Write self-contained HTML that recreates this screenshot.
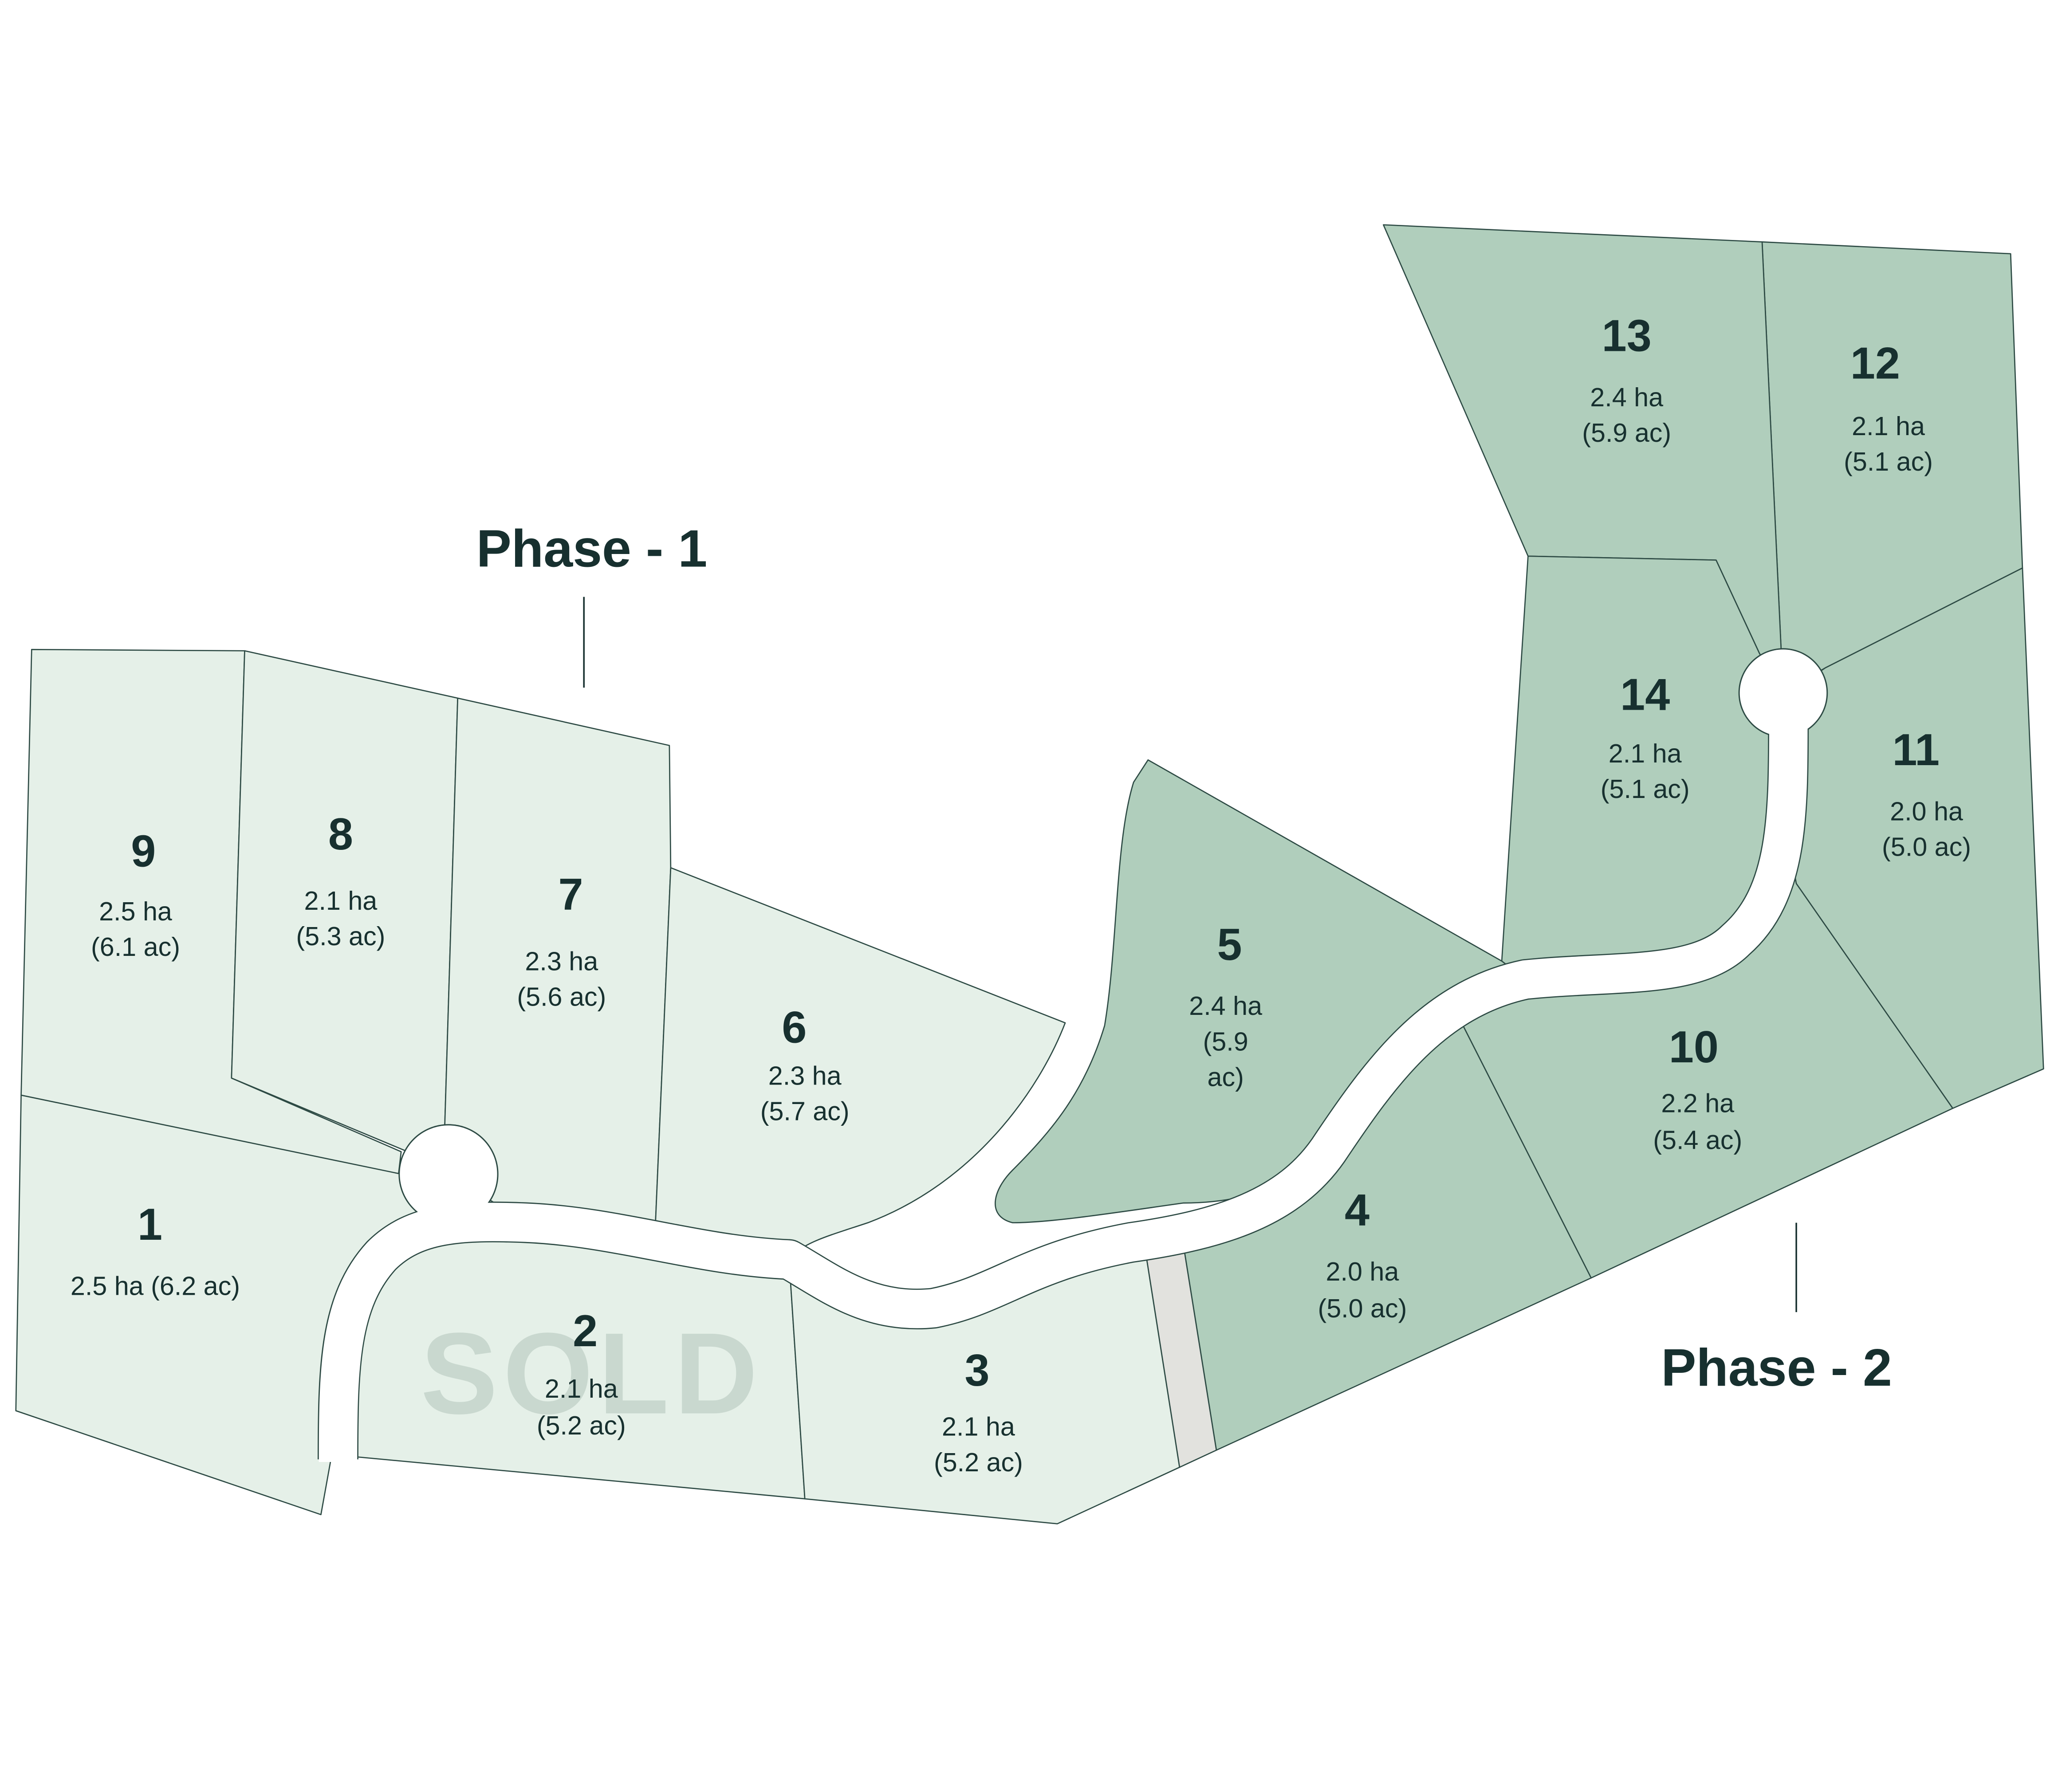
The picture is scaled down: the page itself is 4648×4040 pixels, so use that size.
<!DOCTYPE html>
<html><head><meta charset="utf-8"><style>
html,body{margin:0;padding:0;background:#fff;}
svg{display:block;}
text{font-family:"Liberation Sans",sans-serif;fill:#17302f;text-anchor:middle;}
.n{font-weight:bold;font-size:34px;}
.a{font-size:20px;}
.p{font-weight:bold;font-size:40px;}
</style></head><body>
<svg width="4648" height="4040" viewBox="0 0 1568 1363" xmlns="http://www.w3.org/2000/svg">
<rect width="1568" height="1363" fill="#fff"/>
<g stroke="#2d4a44" stroke-width="0.9" stroke-linejoin="round">
<g fill="#e5f0e8">
<path d="M24,494 L186,495 L176,820 L305,876 L303,893 L16,833 Z"/>
<path d="M16,833 L305,893 L341,893 L290,955 C265,985 258,1030 257,1080 L244,1152 L12,1073 Z"/>
<path d="M186,495 L348,531 L338,862 L341,893 L310,876 L176,820 Z"/>
<path d="M348,531 L509,567 L510,660 L498,940 C470,935 440,931 400,930 L341,893 L338,862 Z"/>
<path d="M510,660 L810,778 C790,830 740,900 660,930 C630,940 610,945 600,958 C560,955 530,948 498,940 Z"/>
<path d="M270,1108 L612,1140 L600,958 C530,955 470,933 400,930 C350,928 315,930 290,955 C262,985 257,1040 257,1108 Z"/>
<path d="M612,1140 L804,1159 L897,1116 L870,945 C820,955 780,980 710,995 C660,1000 630,975 600,958 Z"/>
</g>
<path d="M870,945 L898,935 L925,1103 L897,1116 Z" fill="#e2e2de"/>
<g fill="#b0cebc">
<path d="M898,935 C950,925 985,905 1010,875 C1040,830 1070,795 1110,775 L1210,972 L925,1103 Z"/>
<path d="M1110,775 C1130,758 1145,748 1160,745 C1230,738 1290,745 1320,715 C1345,690 1358,660 1360,640 L1366,672 L1485,843 L1210,972 Z"/>
<path d="M1360,640 L1360,527 L1388,508 L1538,432 L1554,813 L1485,843 L1366,672 Z"/>
<path d="M1340,184 L1529,193 L1538,432 L1388,508 L1356,527 Z"/>
<path d="M1052,171 L1340,184 L1356,527 L1338,497 L1305,426 L1162,423 Z"/>
<path d="M1162,423 L1305,426 L1338,497 L1356,527 L1360,620 C1358,680 1340,700 1320,715 C1290,745 1230,738 1160,745 L1142,731 Z"/>
<path d="M873,578 L1142,731 L1160,745 C1090,760 1050,815 1010,875 C980,905 940,915 900,915 C850,922 800,930 770,930 C750,925 755,905 770,890 C800,860 825,830 840,780 C850,720 848,640 862,595 Z"/>
</g>
</g>
<g fill="none" stroke-linecap="butt" stroke-linejoin="round">
<path d="M257,1110 C257,1040 258,990 290,955 C315,930 350,928 400,930 C470,933 530,955 600,958 C630,975 660,1000 710,995 C760,985 780,960 860,945 C930,935 980,918 1010,875 C1050,815 1090,760 1160,745 C1230,738 1290,745 1320,715 C1360,680 1360,620 1360,545" stroke="#2d4a44" stroke-width="31"/>
<circle cx="341" cy="893" r="38" fill="#2d4a44" stroke="none"/>
<circle cx="1356" cy="527" r="34" fill="#2d4a44" stroke="none"/>
<path d="M257,1112 C257,1040 258,990 290,955 C315,930 350,928 400,930 C470,933 530,955 600,958 C630,975 660,1000 710,995 C760,985 780,960 860,945 C930,935 980,918 1010,875 C1050,815 1090,760 1160,745 C1230,738 1290,745 1320,715 C1360,680 1360,620 1360,545" stroke="#fff" stroke-width="29.2"/>
<circle cx="341" cy="893" r="37" fill="#fff" stroke="none"/>
<circle cx="1356" cy="527" r="33" fill="#fff" stroke="none"/>
</g>
<text x="450" y="1075" style="font-weight:bold;font-size:88px;fill:#c9d8cf;letter-spacing:4px">SOLD</text>
<text class="n" x="109" y="659">9</text><text class="a" x="103" y="700">2.5 ha</text><text class="a" x="103" y="727">(6.1 ac)</text>
<text class="n" x="259" y="646">8</text><text class="a" x="259" y="692">2.1 ha</text><text class="a" x="259" y="719">(5.3 ac)</text>
<text class="n" x="434" y="692">7</text><text class="a" x="427" y="738">2.3 ha</text><text class="a" x="427" y="765">(5.6 ac)</text>
<text class="n" x="604" y="793">6</text><text class="a" x="612" y="825">2.3 ha</text><text class="a" x="612" y="852">(5.7 ac)</text>
<text class="n" x="114" y="943">1</text><text class="a" x="118" y="985">2.5 ha (6.2 ac)</text>
<text class="n" x="445" y="1024">2</text><text class="a" x="442" y="1063">2.1 ha</text><text class="a" x="442" y="1091">(5.2 ac)</text>
<text class="n" x="743" y="1054">3</text><text class="a" x="744" y="1092">2.1 ha</text><text class="a" x="744" y="1119">(5.2 ac)</text>
<text class="n" x="935" y="730">5</text><text class="a" x="932" y="772">2.4 ha</text><text class="a" x="932" y="799">(5.9</text><text class="a" x="932" y="826">ac)</text>
<text class="n" x="1032" y="932">4</text><text class="a" x="1036" y="974">2.0 ha</text><text class="a" x="1036" y="1002">(5.0 ac)</text>
<text class="n" x="1288" y="808">10</text><text class="a" x="1291" y="846">2.2 ha</text><text class="a" x="1291" y="874">(5.4 ac)</text>
<text class="n" x="1457" y="582">11</text><text class="a" x="1465" y="624">2.0 ha</text><text class="a" x="1465" y="651">(5.0 ac)</text>
<text class="n" x="1426" y="288">12</text><text class="a" x="1436" y="331">2.1 ha</text><text class="a" x="1436" y="358">(5.1 ac)</text>
<text class="n" x="1237" y="267">13</text><text class="a" x="1237" y="309">2.4 ha</text><text class="a" x="1237" y="336">(5.9 ac)</text>
<text class="n" x="1251" y="540">14</text><text class="a" x="1251" y="580">2.1 ha</text><text class="a" x="1251" y="607">(5.1 ac)</text>
<text class="p" x="450" y="431">Phase - 1</text>
<line x1="444" y1="454" x2="444" y2="523" stroke="#17302f" stroke-width="1.2"/>
<text class="p" x="1351" y="1054">Phase - 2</text>
<line x1="1366" y1="930" x2="1366" y2="998" stroke="#17302f" stroke-width="1.2"/>
</svg>
</body></html>
